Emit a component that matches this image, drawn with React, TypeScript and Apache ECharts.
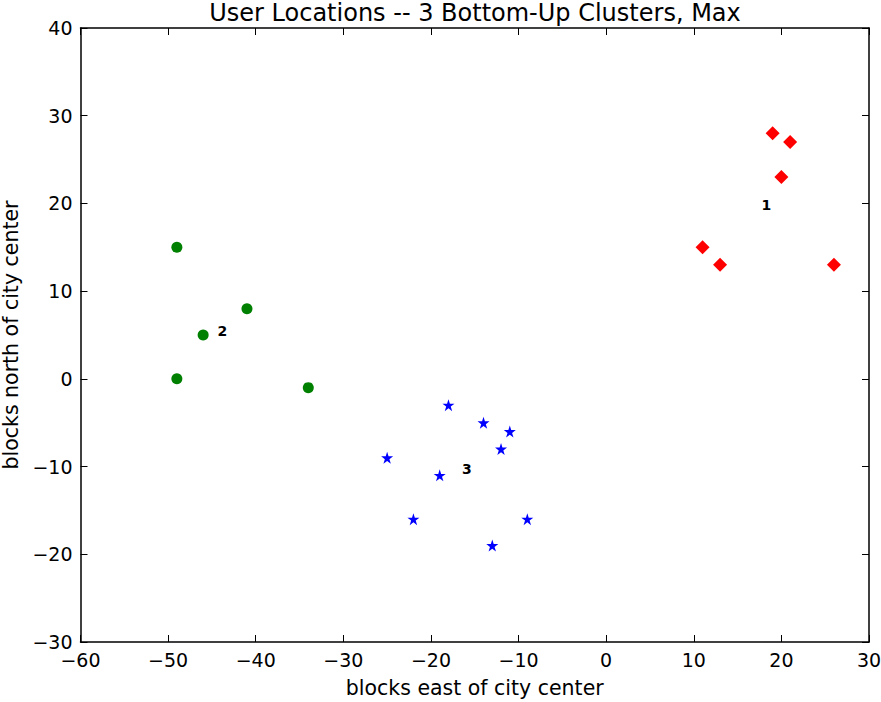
import React, { useEffect, useRef } from "react";
import * as echarts from "echarts";

const cluster1: [number, number][] = [
  [19, 28], [21, 27], [20, 23], [11, 15], [13, 13], [26, 13],
];
const cluster2: [number, number][] = [
  [-49, 15], [-41, 8], [-46, 5], [-49, 0], [-34, -1],
];
const cluster3: [number, number][] = [
  [-18, -3], [-14, -5], [-11, -6], [-12, -8], [-25, -9],
  [-19, -11], [-22, -16], [-9, -16], [-13, -19],
];
const clusterLabels: { name: string; value: [number, number] }[] = [
  { name: "1", value: [18.3, 19.8] },
  { name: "2", value: [-43.8, 5.4] },
  { name: "3", value: [-15.9, -10.3] },
];
const xRange = { min: -60, max: 30, interval: 10 };
const yRange = { min: -30, max: 40, interval: 10 };

const FONT = "DejaVu Sans";
const STAR =
  "path://M50,0 L61.2,34.5 L97.6,34.5 L68.2,55.9 L79.4,90.5 L50,69.1 L20.6,90.5 L31.8,55.9 L2.4,34.5 L38.8,34.5 Z";

const fmt = (v: number) => String(v).replace("-", "\u2212");

export default function App() {
  const ref = useRef<HTMLDivElement>(null);
  useEffect(() => {
    if (!ref.current) return;
    const chart = echarts.init(ref.current, undefined, { renderer: "svg" });
    const lineStyle = { color: "#000", width: 1.5 };
    const tick = { show: true, inside: true, length: 7, lineStyle: { color: "#000", width: 1 } };
    const label = { color: "#000", fontFamily: FONT, fontSize: 19, formatter: fmt };
    const axisLine = { show: true, onZero: false, lineStyle };
    chart.setOption({
      animation: false,
      backgroundColor: "#fff",
      title: {
        text: "User Locations -- 3 Bottom-Up Clusters, Max",
        left: 475,
        top: 1,
        padding: 0,
        textAlign: "center",
        textStyle: { fontFamily: FONT, fontSize: 24, fontWeight: "normal", color: "#000" },
      },
      grid: {
        left: 80.5,
        right: 12,
        top: 28,
        bottom: 60,
        containLabel: false,
        outerBoundsMode: "none",
      },
      xAxis: [
        {
          type: "value",
          ...xRange,
          position: "bottom",
          axisLine,
          axisTick: tick,
          axisLabel: { ...label, margin: 8 },
          splitLine: { show: false },
          name: "blocks east of city center",
          nameLocation: "middle",
          nameGap: 35,
          nameTextStyle: { fontFamily: FONT, fontSize: 20.5, color: "#000" },
        },
        {
          type: "value",
          ...xRange,
          position: "top",
          axisLine,
          axisTick: tick,
          axisLabel: { show: false },
          splitLine: { show: false },
        },
      ],
      yAxis: [
        {
          type: "value",
          ...yRange,
          position: "left",
          axisLine,
          axisTick: tick,
          axisLabel: { ...label, margin: 8 },
          splitLine: { show: false },
          name: "blocks north of city center",
          nameLocation: "middle",
          nameGap: 55,
          nameTextStyle: { fontFamily: FONT, fontSize: 20.5, color: "#000" },
        },
        {
          type: "value",
          ...yRange,
          position: "right",
          axisLine,
          axisTick: tick,
          axisLabel: { show: false },
          splitLine: { show: false },
        },
      ],
      series: [
        {
          type: "scatter",
          xAxisIndex: 0,
          yAxisIndex: 0,
          data: cluster1,
          symbol: "diamond",
          symbolSize: 14,
          itemStyle: { color: "#ff0000", opacity: 1 },
        },
        {
          type: "scatter",
          xAxisIndex: 0,
          yAxisIndex: 0,
          data: cluster2,
          symbol: "circle",
          symbolSize: 11,
          itemStyle: { color: "#008000", opacity: 1 },
        },
        {
          type: "scatter",
          xAxisIndex: 0,
          yAxisIndex: 0,
          data: cluster3,
          symbol: STAR,
          symbolSize: 12,
          itemStyle: { color: "#0000ff", opacity: 1 },
        },
        {
          type: "scatter",
          xAxisIndex: 0,
          yAxisIndex: 0,
          data: clusterLabels,
          symbolSize: 0,
          silent: true,
          itemStyle: { opacity: 1 },
          label: {
            show: true,
            position: "inside",
            formatter: "{b}",
            fontFamily: FONT,
            fontSize: 14,
            fontWeight: "bold",
            color: "#000",
          },
        },
      ],
    });
    return () => chart.dispose();
  }, []);
  return (
    <div
      ref={ref}
      style={{ position: "fixed", left: 0, top: 0, width: 881, height: 702, background: "#fff" }}
    />
  );
}
